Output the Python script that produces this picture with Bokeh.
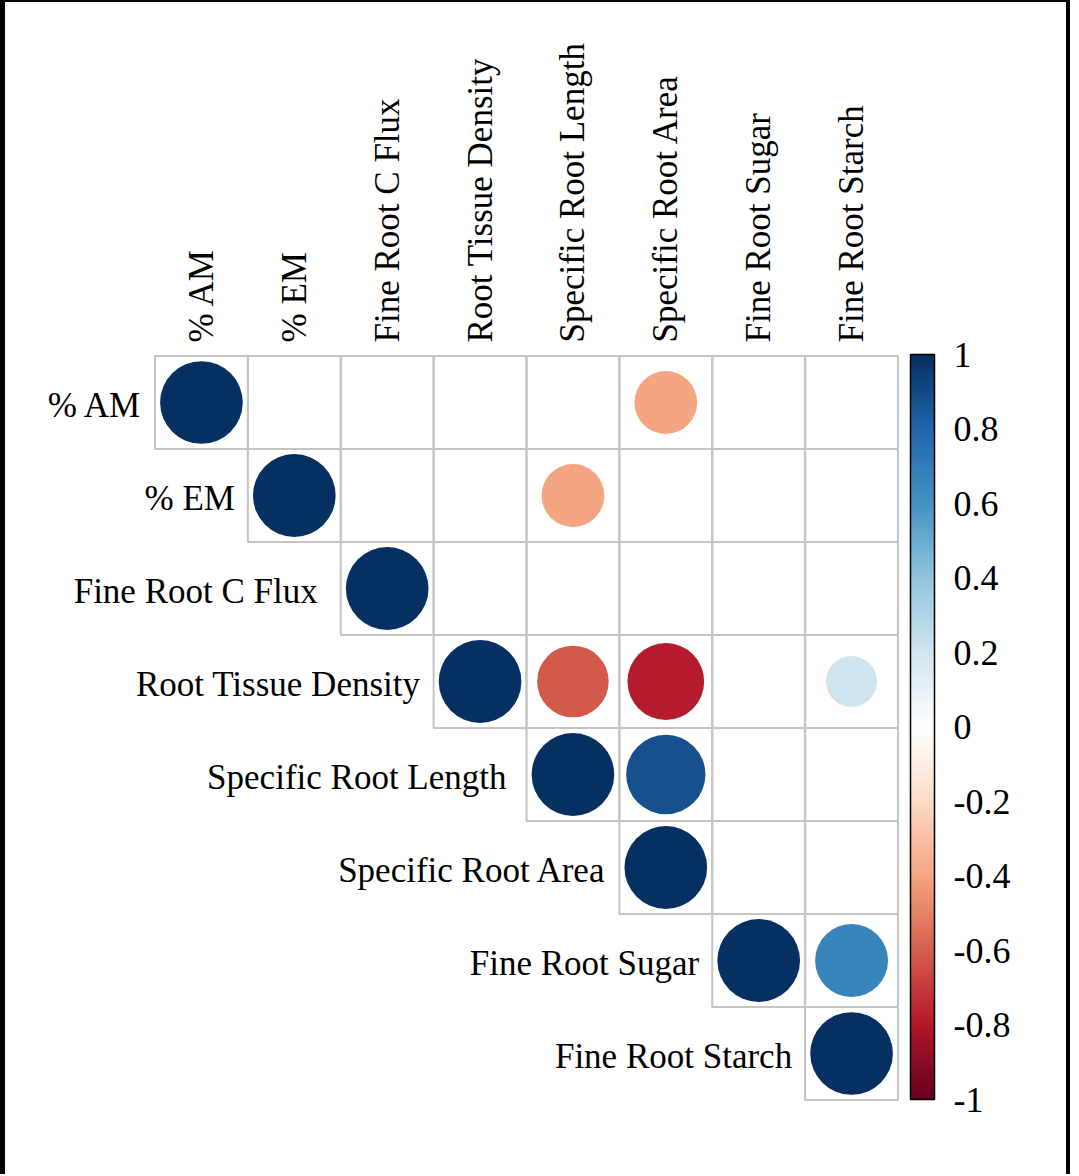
import numpy as np
from bokeh.plotting import figure
from bokeh.models import (ColumnDataSource, FixedTicker, LinearColorMapper,
                          ColorBar, Range1d, AllLabels, CustomJSTickFormatter)
from bokeh.transform import linear_cmap
from bokeh.core.properties import value
from bokeh.embed import file_html
from bokeh.resources import INLINE

# Traits, in matrix order
traits = ["% AM", "% EM", "Fine Root C Flux", "Root Tissue Density",
          "Specific Root Length", "Specific Root Area", "Fine Root Sugar",
          "Fine Root Starch"]

# Significant correlations in the upper triangle (row trait, column trait, r);
# non-significant pairs are left blank
pair_row = ["% AM", "% EM", "Fine Root C Flux", "Root Tissue Density",
            "Specific Root Length", "Specific Root Area", "Fine Root Sugar",
            "Fine Root Starch",
            "% AM", "% EM", "Root Tissue Density", "Root Tissue Density",
            "Root Tissue Density", "Specific Root Length", "Fine Root Sugar"]
pair_col = ["% AM", "% EM", "Fine Root C Flux", "Root Tissue Density",
            "Specific Root Length", "Specific Root Area", "Fine Root Sugar",
            "Fine Root Starch",
            "Specific Root Area", "Specific Root Length", "Specific Root Length",
            "Specific Root Area", "Fine Root Starch", "Specific Root Area",
            "Fine Root Starch"]
pair_r = [1, 1, 1, 1, 1, 1, 1, 1,
          -0.40, -0.40, -0.62, -0.78, 0.20, 0.87, 0.66]

bar_ticks = [1, 0.8, 0.6, 0.4, 0.2, 0, -0.2, -0.4, -0.6, -0.8, -1]

# Diverging red-white-blue ramp, 200 steps from -1 to 1
anchors = ["#67001F", "#B2182B", "#D6604D", "#F4A582", "#FDDBC7", "#FFFFFF",
           "#D1E5F0", "#92C5DE", "#4393C3", "#2166AC", "#053061"]


def ramp(cols, n):
    rgb = np.array([[int(c[i:i + 2], 16) for i in (1, 3, 5)] for c in cols], float)
    pos = np.linspace(0, 1, len(cols))
    t = np.linspace(0, 1, n)
    out = np.stack([np.interp(t, pos, rgb[:, k]) for k in range(3)], axis=1)
    return ["#%02x%02x%02x" % tuple(int(round(v)) for v in row) for row in out]


palette = ramp(anchors, 200)

FONT = "Liberation Serif"
n = len(traits)
idx = {t: i for i, t in enumerate(traits)}

# Page frame: black rule on left, top and right
BL, BT, BR = 5, 2, 4
W, H = 1079 - BL - BR, 1176 - BT

# Grid geometry on the canvas (one cell = one data unit)
cell_w, cell_h = 92.875, 93.0
grid_left, grid_top = 149.5, 353.5
fw, fh = 896, 750
top = 350
x0 = -grid_left / cell_w
x1 = (fw - grid_left) / cell_w
y0 = -(grid_top - top) / cell_h
y1 = (fh - (grid_top - top)) / cell_h

p = figure(width=W, height=H, output_backend="svg", toolbar_location=None,
           x_range=Range1d(x0, x1), y_range=Range1d(y1, y0),
           x_axis_location="above", y_axis_location=None,
           min_border_left=0, min_border_top=top,
           min_border_right=W - fw, min_border_bottom=H - top - fh,
           background_fill_color="white", border_fill_color="white")
p.outline_line_color = None
p.grid.visible = False
p.styles = {"border-left": f"{BL}px solid black",
            "border-top": f"{BT}px solid black",
            "border-right": f"{BR}px solid black"}

# Column labels along the top
xa = p.xaxis[0]
xa.ticker = FixedTicker(ticks=[i + 0.5 for i in range(n)])
xa.major_label_overrides = {i + 0.5: t for i, t in enumerate(traits)}
xa.major_label_orientation = "vertical"
xa.major_label_text_font = FONT
xa.major_label_text_font_size = "35px"
xa.major_label_text_color = "black"
xa.major_label_standoff = 4
xa.axis_line_color = None
xa.major_tick_line_color = None
xa.minor_tick_line_color = None

# Upper-triangle cell outlines
cx, cy = [], []
for i in range(n):
    for j in range(i, n):
        cx.append(j + 0.5)
        cy.append(i + 0.5)
p.rect(x=cx, y=cy, width=1, height=1, fill_color=None,
       line_color="#c4c4c4", line_width=2)

# Row labels sit beside each diagonal cell
label_gap = [-13, -13, -23, -13, -20, -13, -13, -13]
p.text(x=list(range(n)), y=[i + 0.5 for i in range(n)], text=traits,
       x_offset=label_gap, y_offset=3,
       text_align="right", text_baseline="middle",
       text_font=value(FONT), text_font_size="35px", text_color="black")

# Circles: colour from r, diameter grows with |r|
r = np.array(pair_r, float)
src = ColumnDataSource(dict(
    x=[idx[c] + 0.5 for c in pair_col],
    y=[idx[rw] + 0.5 for rw in pair_row],
    r=r,
    d=0.89 * np.abs(r) ** 0.3,
))
p.ellipse(x="x", y="y", width="d", height="d", source=src,
          fill_color=linear_cmap("r", palette, -1, 1), line_color=None)

mapper = LinearColorMapper(palette=palette, low=-1, high=1)
cb = ColorBar(color_mapper=mapper, width=24, height=745,
              ticker=FixedTicker(ticks=bar_ticks),
              formatter=CustomJSTickFormatter(
                  code="return String(Math.round(tick * 10) / 10);"),
              major_label_policy=AllLabels(),
              major_label_text_font=FONT, major_label_text_font_size="36px",
              major_label_text_color="black",
              major_tick_line_color=None, minor_tick_line_color=None,
              bar_line_color="black", bar_line_width=1.5,
              border_line_color=None, background_fill_color=None,
              label_standoff=19, margin=0, padding=0, location=(9, 3))
p.add_layout(cb, "right")

open("out.html", "w").write(file_html(p, INLINE))
